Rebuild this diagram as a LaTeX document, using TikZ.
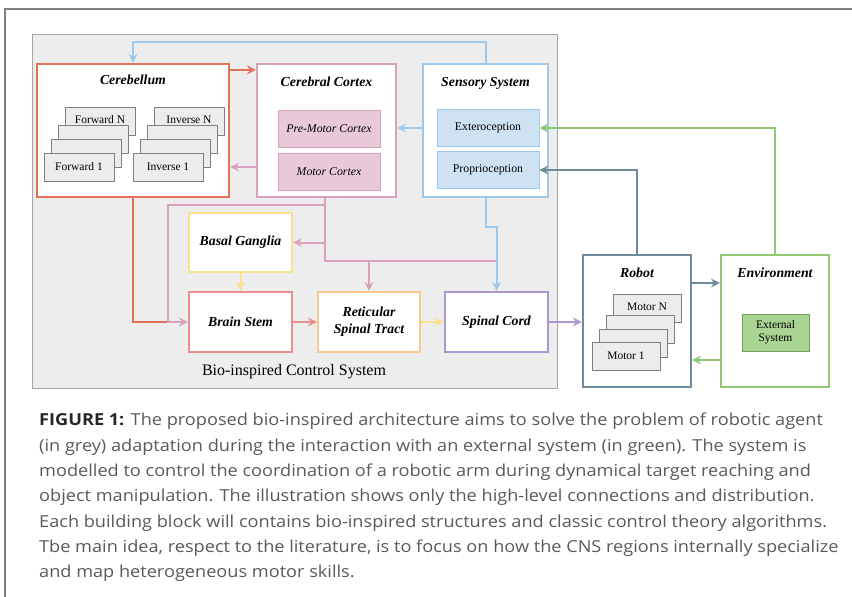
\documentclass[tikz,border=0pt]{standalone}
\usepackage{fontspec}
\setmainfont{Liberation Serif}
\newfontfamily\capfont[FakeStretch=1.1]{Open Sans}
\usetikzlibrary{arrows.meta}
\usetikzlibrary{positioning}

\definecolor{cbred}{HTML}{E2725A}
\definecolor{ccpink}{HTML}{D8A2BF}
\definecolor{ccfill}{HTML}{E9C9D8}
\definecolor{ssblue}{HTML}{9FC9EA}
\definecolor{ssfill}{HTML}{CFE2F4}
\definecolor{bgyel}{HTML}{FBE08E}
\definecolor{bsred}{HTML}{EA8E8E}
\definecolor{rtorg}{HTML}{F9C88E}
\definecolor{scpur}{HTML}{AB98D3}
\definecolor{rbstl}{HTML}{6F8B9B}
\definecolor{engrn}{HTML}{8FC974}
\definecolor{exfill}{HTML}{A9D491}
\definecolor{panelg}{HTML}{EDEDED}

\tikzset{
  blk/.style={draw=#1, line width=2.2pt, fill=white, inner sep=0pt},
  subblk/.style 2 args={draw=#1, fill=#2, line width=0.8pt, minimum width=102pt,
    minimum height=37pt, inner sep=0pt, font=\fontsize{11.8}{13}\selectfont},
  stk/.style={draw=gray, fill=gray!15, line width=0.9pt, minimum width=70pt,
    minimum height=28pt, inner sep=0pt, font=\fontsize{11.5}{13}\selectfont},
  ttl/.style={font=\fontsize{13.8}{17}\selectfont\bfseries\itshape},
  arr/.style={line width=2pt, -{Stealth[length=9pt,width=9pt,inset=3pt]}},
  lnk/.style={line width=2pt},
}

\begin{document}
\begin{tikzpicture}[x=1pt,y=-1pt]
\useasboundingbox (0,0) rectangle (852,597);
\draw [gray, line width=1.3pt] (5,597) -- (5,9) -- (852,9);

% control system panel
\node [draw=gray!70, fill=panelg, line width=1pt, minimum width=525pt, minimum height=354pt] (panel) at (294.5,211) {};
\node [font=\fontsize{16}{19}\selectfont] (paneltxt) at (294,372) {Bio-inspired Control System};

% cerebellum
\node [blk=cbred, minimum width=192pt, minimum height=133pt] (cb) at (133,130.5) {};
\node [ttl] (cbt) at (133,80) {Cerebellum};
\node [stk] (fwN) at (100,121) {};
\node [font=\fontsize{11.5}{13}\selectfont] (fwNt) at ([yshift=-13pt]fwN.north) {Forward N};
\node [stk] (fw3) at (93,139) {};
\node [stk] (fw2) at (86,153) {};
\node [stk] (fw1) at (79,167) {Forward 1};
\node [stk] (ivN) at (189,121) {};
\node [font=\fontsize{11.5}{13}\selectfont] (ivNt) at ([yshift=-13pt]ivN.north) {Inverse N};
\node [stk] (iv3) at (182,139) {};
\node [stk] (iv2) at (175,153) {};
\node [stk] (iv1) at (168,167) {Inverse 1};

% cerebral cortex
\node [blk=ccpink, minimum width=139pt, minimum height=133pt] (cc) at (326.5,130.5) {};
\node [ttl] (cct) at (326.5,82) {Cerebral Cortex};
\node [subblk={ccpink}{ccfill}] (pm) at (329,128.5) {\itshape Pre-Motor Cortex};
\node [subblk={ccpink}{ccfill}] (mc) at (329,171.5) {\itshape Motor Cortex};

% sensory system
\node [blk=ssblue, minimum width=125pt, minimum height=133pt] (ss) at (485.5,130.5) {};
\node [ttl] (sst) at (485.5,83) {Sensory System};
\node [subblk={ssblue}{ssfill}] (ex) at (488,128) {Exteroception};
\node [subblk={ssblue}{ssfill}] (pr) at (488,170) {Proprioception};

% lower row
\node [blk=bgyel, ttl, minimum width=103pt, minimum height=59pt] (bg) at (240.5,242.5) {Basal Ganglia};
\node [blk=bsred, ttl, minimum width=103pt, minimum height=60pt] (bs) at (240.5,322) {Brain Stem};
\node [blk=rtorg, ttl, align=center, minimum width=102pt, minimum height=60pt] (rt) at (369,322) {Reticular\\Spinal Tract};
\node [blk=scpur, ttl, minimum width=103pt, minimum height=60pt] (sc) at (496.5,322) {Spinal Cord};

% robot
\node [blk=rbstl, minimum width=108pt, minimum height=132pt] (rb) at (637,321) {};
\node [ttl] (rbt) at (637,273) {Robot};
\node [stk, minimum width=68pt] (mtN) at (647,308) {};
\node [font=\fontsize{11.5}{13}\selectfont] (mtNt) at ([yshift=-13pt]mtN.north) {Motor N};
\node [stk, minimum width=68pt] (mt3) at (640,329) {};
\node [stk, minimum width=68pt] (mt2) at (633,343) {};
\node [stk, minimum width=68pt] (mt1) at (626,356) {Motor 1};

% environment
\node [blk=engrn, minimum width=108pt, minimum height=132pt] (en) at (775,321) {};
\node [ttl] (ent) at (775,273) {Environment};
\node [draw=engrn!80!black, fill=exfill, line width=0.8pt, minimum width=67pt, minimum height=37pt,
  inner sep=0pt, align=center, font=\fontsize{11.5}{13}\selectfont] (ext) at (775.5,332.5) {External\\System};

% connections
\draw [arr, ssblue] (ss.north) -- ++(0,-21) -| (cb.north);
\draw [arr, cbred] ([yshift=-7pt]cb.north east) -- ([yshift=-7pt]cb.north east -| cc.west);
\draw [arr, ccpink] (cc.west |- 0,167) -- (cb.east |- 0,167);
\draw [arr, ssblue] (ss.west |- ex.west) -- (cc.east |- ex.west);
\draw [arr, engrn] (en.north) |- (ex.east);
\draw [arr, rbstl] (rb.north) |- (pr.east);

\coordinate (pa) at (325,205);
\coordinate (pk) at (168,205);
\coordinate (pb) at (325,261);
\draw [lnk, cbred] (cb.south) |- (pk |- bs.west);
\draw [arr, ccpink] (cc.south -| pa) -- (pa) -- (pk) |- (bs.west);
\draw [lnk, ccpink] (pa) -- (pb) -- (pb -| sc.north);
\draw [arr, ccpink] (pa |- bg.east) -- (bg.east);
\draw [arr, ccpink] (pb -| rt.north) -- (rt.north);
\draw [arr, ssblue] (ss.south) -- ++(0,29) -| (sc.north);

\draw [arr, bgyel] (bg.south) -- (bs.north);
\draw [arr, bsred] (bs.east) -- (rt.west);
\draw [arr, bgyel] (rt.east) -- (sc.west);
\draw [arr, scpur] (sc.east) -- (sc.east -| rb.west);
\draw [arr, rbstl] (rb.east |- 0,283) -- (en.west |- 0,283);
\draw [arr, engrn] (en.west |- 0,360) -- (rb.east |- 0,360);

% caption
\node [anchor=north west, align=left, inner sep=0pt, text=black!65,
  font=\capfont\fontsize{16.5}{25.35}\selectfont] (cap) at (39,413)
  {{\bfseries\color{black!85}FIGURE 1:} The proposed bio-inspired architecture aims to solve the problem of robotic agent\\
  (in grey) adaptation during the interaction with an external system (in green). The system is\\
  modelled to control the coordination of a robotic arm during dynamical target reaching and\\
  object manipulation. The illustration shows only the high-level connections and distribution.\\
  Each building block will contains bio-inspired structures and classic control theory algorithms.\\
  Tbe main idea, respect to the literature, is to focus on how the CNS regions internally specialize\\
  and map heterogeneous motor skills.};
\end{tikzpicture}
\end{document}
